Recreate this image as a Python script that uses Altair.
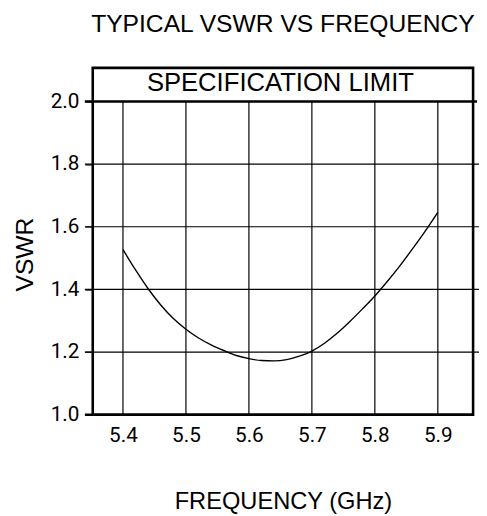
import altair as alt
import pandas as pd

# Data
freq_ghz = [5.40, 5.42, 5.44, 5.46, 5.48, 5.50, 5.52, 5.54, 5.56, 5.58, 5.60, 5.62, 5.64,
            5.66, 5.68, 5.70, 5.72, 5.74, 5.76, 5.78, 5.80, 5.82, 5.84, 5.86, 5.88, 5.90]
vswr = [1.527, 1.462, 1.402, 1.350, 1.307, 1.273, 1.245, 1.223, 1.205, 1.189, 1.179, 1.173, 1.172,
        1.176, 1.187, 1.203, 1.228, 1.260, 1.297, 1.337, 1.379, 1.426, 1.476, 1.530, 1.586, 1.646]

x_ticks = [5.4, 5.5, 5.6, 5.7, 5.8, 5.9]
y_ticks = [1.0, 1.2, 1.4, 1.6, 1.8, 2.0]
y_minor = [1.2, 1.4, 1.6, 1.8]
y_limit = [2.0]
y_base = [1.0]
x_domain = [5.352, 5.956]
y_domain = [1.0, 2.107]
spec_text = "SPECIFICATION LIMIT"
spec_pos = [5.650, 2.033]

W, H = 386, 352
LABEL_FONT = "Roboto, sans-serif"
TEXT_FONT = "Liberation Sans, Arial, sans-serif"

curve = pd.DataFrame({"f": freq_ghz, "v": vswr})
xdf = pd.DataFrame({"f": x_ticks})
ydf_minor = pd.DataFrame({"v": y_minor})
ydf_limit = pd.DataFrame({"v": y_limit})
ydf_base = pd.DataFrame({"v": y_base})

xscale = alt.Scale(domain=x_domain, nice=False, zero=False)
yscale = alt.Scale(domain=y_domain, nice=False, zero=False)

x_axis = alt.Axis(
    values=x_ticks, format=".1f", title="FREQUENCY (GHz)", grid=False, domain=False,
    ticks=False, labelPadding=10, labelFont=LABEL_FONT, labelFontSize=21,
    labelColor="black", titleFont=TEXT_FONT, titleFontSize=24, titleFontWeight="normal",
    titleColor="black", titleBaseline="alphabetic", titleY=95,
)
y_axis = alt.Axis(
    values=y_ticks, format=".1f", title="VSWR", grid=False, domain=False,
    ticks=True, tickSize=8, tickColor="black", tickWidth=1.2, labelPadding=6,
    labelFont=LABEL_FONT, labelFontSize=21, labelColor="black",
    titleFont=TEXT_FONT, titleFontSize=25, titleFontWeight="normal", titleColor="black",
    titleAngle=270, titleBaseline="alphabetic", titleAlign="center", titleX=-61, titleY=189,
)

vgrid = alt.Chart(xdf).mark_rule(color="black", strokeWidth=1.2).encode(
    x=alt.X("f:Q", scale=xscale, axis=x_axis),
    y=alt.datum(1.0, scale=yscale, axis=y_axis),
    y2=alt.datum(2.0),
)

hgrid = alt.Chart(ydf_minor).mark_rule(color="black", strokeWidth=1.2).encode(
    y=alt.Y("v:Q", scale=yscale, axis=y_axis),
    x=alt.value(-8),
    x2=alt.value(W + 6),
)

hlimit = alt.Chart(ydf_limit).mark_rule(color="black", strokeWidth=2.6).encode(
    y=alt.Y("v:Q", scale=yscale, axis=y_axis),
    x=alt.value(-8),
    x2=alt.value(W + 4),
)

hbase = alt.Chart(ydf_base).mark_rule(color="black", strokeWidth=2.6).encode(
    y=alt.Y("v:Q", scale=yscale, axis=y_axis),
    x=alt.value(-8),
    x2=alt.value(W),
)

line = alt.Chart(curve).mark_line(color="black", strokeWidth=1.4, interpolate="monotone").encode(
    x=alt.X("f:Q", scale=xscale, axis=x_axis),
    y=alt.Y("v:Q", scale=yscale, axis=y_axis),
)

spec = alt.Chart(pd.DataFrame({"t": [spec_text]})).mark_text(
    font=TEXT_FONT, fontSize=26, color="black", align="center", baseline="alphabetic"
).encode(
    x=alt.datum(spec_pos[0], scale=xscale),
    y=alt.datum(spec_pos[1], scale=yscale),
    text="t:N",
)

chart = alt.layer(vgrid, hgrid, hlimit, hbase, line, spec).properties(
    width=W,
    height=H,
    background="white",
    autosize=alt.AutoSizeParams(type="none"),
    padding={"left": 86, "top": 57, "right": 6, "bottom": 99},
    title=alt.TitleParams(
        "TYPICAL VSWR VS FREQUENCY", font=TEXT_FONT, fontSize=25, fontWeight="normal",
        color="black", anchor="middle", baseline="alphabetic", offset=11,
    ),
).configure_view(stroke="black", strokeWidth=2.6)

chart.save("out.html", embed_options={"renderer": "svg", "actions": False})
